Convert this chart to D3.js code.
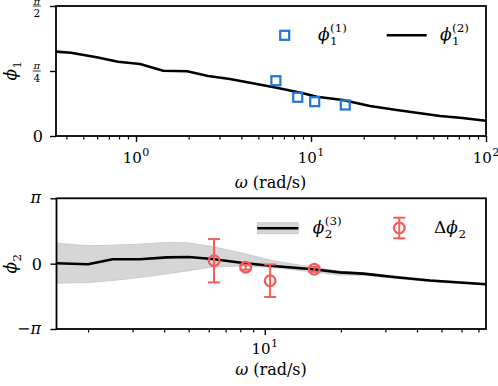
<!DOCTYPE html>
<html>
<head>
<meta charset="utf-8">
<script src="https://cdn.jsdelivr.net/npm/d3@7"></script>
<style>
  body { margin: 0; background: #fff; }
</style>
</head>
<body>
<svg id="chart" width="498" height="386" style="font-family: 'DejaVu Serif', 'Liberation Serif', serif;"></svg>
<script>
// top panel: model curve phi1^(2) and measurements phi1^(1)
const topOmega = [0.35, 0.425, 0.596, 0.789, 1.054, 1.43, 1.96, 2.58, 3.44, 4.48, 6.37, 9.0, 10.8, 15.2, 21.7, 30.9, 54.6, 71, 100];
const topPhi = [1.019, 1.006, 0.951, 0.898, 0.870, 0.789, 0.782, 0.725, 0.689, 0.644, 0.584, 0.516, 0.475, 0.435, 0.362, 0.314, 0.242, 0.221, 0.185];
const measOmega = [6.3, 8.4, 10.5, 15.7];
const measPhi1 = [0.668, 0.468, 0.415, 0.375];

// bottom panel: phi2^(3) with band, and delta phi2 with error bars
const botOmega = [1.5, 2.0, 2.5, 3.2, 4.1, 5.0, 6.2, 8.2, 10.8, 15.5, 19.8, 24.5, 33, 45, 75];
const botPhi = [0.02, -0.03, 0.21, 0.21, 0.30, 0.32, 0.22, 0.03, -0.11, -0.27, -0.42, -0.48, -0.65, -0.81, -0.99];
const botUpper = [0.98, 0.86, 0.89, 0.94, 1.02, 1.00, 0.82, 0.50, 0.14, -0.17, -0.36, -0.43, -0.60, -0.77, -0.95];
const botLower = [-0.94, -0.91, -0.81, -0.67, -0.49, -0.34, -0.16, -0.11, -0.19, -0.40, -0.55, -0.56, -0.71, -0.86, -1.03];
const deltaPhi2 = [0.14, -0.17, -0.82, -0.27];
const deltaErr = [1.04, 0.12, 0.78, 0.12];

const topMinorTicks = [0.4, 0.5, 0.6, 0.7, 0.8, 0.9, 2, 3, 4, 5, 6, 7, 8, 9, 20, 30, 40, 50, 60, 70, 80, 90];
const topMajorTicks = [1, 10, 100];
const botMinorTicks = [2, 3, 4, 5, 6, 7, 8, 9, 20, 30, 40, 50, 60, 70];
const botMajorTicks = [10];

const BLUE = '#1f74d6';
const RED = '#f45b5b';
const PI = Math.PI;
const SERIF = "'DejaVu Serif', 'Liberation Serif', serif";

const svg = d3.select('#chart');

const xTop = d3.scaleLog().domain([0.349, 100]).range([56, 486]);
const yTop = d3.scaleLinear().domain([0, PI / 2]).range([136, 6]);
const xBot = d3.scaleLog().domain([1.5, 75]).range([56.5, 486]);
const yBot = d3.scaleLinear().domain([-PI, PI]).range([329, 198.3]);

function txt(parent, x, y, size) {
  return parent.append('text').attr('x', x).attr('y', y)
    .style('font-family', SERIF).style('font-size', size + 'px').attr('fill', '#000');
}

// italic symbol with stacked sub/sup, returns group
function mathLabel(parent, x, y, o) {
  const size = o.size || 15;
  const g = parent.append('g');
  const base = txt(g, x, y, size);
  if (o.pre) base.append('tspan').text(o.pre);
  base.append('tspan').style('font-style', 'italic').text(o.base);
  const w = base.node().getComputedTextLength();
  let w2 = 0;
  if (o.sub) {
    const t = txt(g, x + w + 0.5, y + size * 0.3, size * 0.7).text(o.sub);
    w2 = Math.max(w2, t.node().getComputedTextLength());
  }
  if (o.sup) {
    const t = txt(g, x + w + 0.5, y - size * 0.48, size * 0.7).text(o.sup);
    w2 = Math.max(w2, t.node().getComputedTextLength());
  }
  if (o.anchor === 'middle') g.attr('transform', `translate(${-(w + w2) / 2},0)`);
  return g;
}

function powerLabel(parent, x, y, exp) {
  const g = parent.append('g');
  const t = txt(g, x, y, 15).text('10');
  const w = t.node().getComputedTextLength();
  const s = txt(g, x + w + 0.5, y - 7, 11).text(exp);
  const total = w + 0.5 + s.node().getComputedTextLength();
  g.attr('transform', `translate(${-total / 2},0)`);
}

function xAxis(xScale, y, minor, major) {
  svg.append('g')
    .attr('transform', `translate(0,${y})`)
    .call(d3.axisBottom(xScale).tickValues(minor).tickSize(3.5).tickFormat(''))
    .call((g) => g.select('.domain').remove())
    .call((g) => g.selectAll('line').attr('stroke-width', 1.2));
  svg.append('g')
    .attr('transform', `translate(0,${y})`)
    .call(d3.axisBottom(xScale).tickValues(major).tickSize(6).tickFormat(''))
    .call((g) => g.select('.domain').remove())
    .call((g) => g.selectAll('line').attr('stroke-width', 1.4));
}

function yAxis(yScale, x, values) {
  svg.append('g')
    .attr('transform', `translate(${x},0)`)
    .call(d3.axisLeft(yScale).tickValues(values).tickSize(6).tickFormat(''))
    .call((g) => g.select('.domain').remove())
    .call((g) => g.selectAll('line').attr('stroke-width', 1.4));
}

function frame(xScale, yScale) {
  const [x0, x1] = xScale.range();
  const [y1, y0] = yScale.range();
  svg.append('rect')
    .attr('x', x0).attr('y', y0).attr('width', x1 - x0).attr('height', y1 - y0)
    .attr('fill', 'none').attr('stroke', '#000').attr('stroke-width', 1.8);
}

function fraction(x, yBar, num, den) {
  txt(svg, x, Math.max(yBar - 2, 5), 10).attr('text-anchor', 'middle')
    .style('font-style', 'italic').text(num);
  svg.append('line').attr('x1', x - 4).attr('x2', x + 4).attr('y1', yBar).attr('y2', yBar)
    .attr('stroke', '#000').attr('stroke-width', 0.8);
  txt(svg, x, yBar + 10.5, 10.5).attr('text-anchor', 'middle').text(den);
}

function omegaTitle(x, y) {
  txt(svg, x, y, 16).attr('text-anchor', 'middle')
    .call((t) => {
      t.append('tspan').style('font-style', 'italic').text('ω');
      t.append('tspan').text(' (rad/s)');
    });
}

// ---------- top panel ----------
svg.append('clipPath').attr('id', 'clip-top')
  .append('rect').attr('x', 56).attr('y', 6).attr('width', 430).attr('height', 130);

svg.append('path')
  .datum(topOmega.map((w, i) => [w, topPhi[i]]))
  .attr('clip-path', 'url(#clip-top)')
  .attr('fill', 'none').attr('stroke', '#000').attr('stroke-width', 2.6)
  .attr('stroke-linejoin', 'round')
  .attr('d', d3.line().x((d) => xTop(d[0])).y((d) => yTop(d[1])));

svg.append('g').selectAll('rect')
  .data(measOmega.map((w, i) => [w, measPhi1[i]]))
  .join('rect')
  .attr('x', (d) => xTop(d[0]) - 4.5).attr('y', (d) => yTop(d[1]) - 4.5)
  .attr('width', 9).attr('height', 9)
  .attr('fill', 'none').attr('stroke', BLUE).attr('stroke-width', 2.2);

xAxis(xTop, 136, topMinorTicks, topMajorTicks);
yAxis(yTop, 56, [0, PI / 4, PI / 2]);
frame(xTop, yTop);

topMajorTicks.forEach((v) => powerLabel(svg, xTop(v), 163, String(Math.round(Math.log10(v)))));

txt(svg, 43, yTop(0) + 6, 16).attr('text-anchor', 'end').text('0');
fraction(36.8, yTop(PI / 4), 'π', '4');
fraction(36.8, yTop(PI / 2), 'π', '2');

omegaTitle(270.5, 188);

// rotated y label
const ylabTop = svg.append('g').attr('transform', 'translate(16,71) rotate(-90)');
mathLabel(ylabTop, 0, 0, { base: 'ϕ', sub: '1', anchor: 'middle', size: 17 });

// top legend
svg.append('rect').attr('x', 280.2).attr('y', 30.8).attr('width', 9).attr('height', 9)
  .attr('fill', 'none').attr('stroke', BLUE).attr('stroke-width', 2.2);
mathLabel(svg, 318, 40, { base: 'ϕ', sub: '1', sup: '(1)', size: 17 });
svg.append('line').attr('x1', 386.7).attr('x2', 426.7).attr('y1', 35.3).attr('y2', 35.3)
  .attr('stroke', '#000').attr('stroke-width', 2.6);
mathLabel(svg, 440, 40, { base: 'ϕ', sub: '1', sup: '(2)', size: 17 });

// ---------- bottom panel ----------
svg.append('clipPath').attr('id', 'clip-bot')
  .append('rect').attr('x', 56.5).attr('y', 198.3).attr('width', 429.5).attr('height', 130.7);

const bandData = botOmega.map((w, i) => ({ w, lo: botLower[i], hi: botUpper[i], mid: botPhi[i] }));

svg.append('path')
  .datum(bandData)
  .attr('clip-path', 'url(#clip-bot)')
  .attr('fill', '#d6d6d6').attr('stroke', '#c4c4c4').attr('stroke-width', 0.8)
  .attr('d', d3.area().x((d) => xBot(d.w)).y0((d) => yBot(d.lo)).y1((d) => yBot(d.hi)));

svg.append('path')
  .datum(bandData)
  .attr('clip-path', 'url(#clip-bot)')
  .attr('fill', 'none').attr('stroke', '#000').attr('stroke-width', 2.6)
  .attr('stroke-linejoin', 'round')
  .attr('d', d3.line().x((d) => xBot(d.w)).y((d) => yBot(d.mid)));

const errData = measOmega.map((w, i) => ({ w, v: deltaPhi2[i], e: deltaErr[i] }));
const errG = svg.append('g').attr('stroke', RED).attr('stroke-width', 2).attr('fill', 'none');
errData.forEach((d) => {
  const x = xBot(d.w);
  const yHi = yBot(d.v + d.e);
  const yLo = yBot(d.v - d.e);
  errG.append('line').attr('x1', x).attr('x2', x).attr('y1', yHi).attr('y2', yLo);
  errG.append('line').attr('x1', x - 6).attr('x2', x + 6).attr('y1', yHi).attr('y2', yHi);
  errG.append('line').attr('x1', x - 6).attr('x2', x + 6).attr('y1', yLo).attr('y2', yLo);
  errG.append('circle').attr('cx', x).attr('cy', yBot(d.v)).attr('r', 5.3).attr('stroke-width', 2.3);
});

xAxis(xBot, 329, botMinorTicks, botMajorTicks);
yAxis(yBot, 56.5, [-PI, 0, PI]);
frame(xBot, yBot);

botMajorTicks.forEach((v) => powerLabel(svg, xBot(v), 354, '1'));

txt(svg, 41, yBot(PI) + 4.5, 16).attr('text-anchor', 'end').style('font-style', 'italic').text('π');
txt(svg, 42, yBot(0) + 6, 16).attr('text-anchor', 'end').text('0');
txt(svg, 41, yBot(-PI) + 4.5, 16).attr('text-anchor', 'end')
  .call((t) => {
    t.append('tspan').text('−');
    t.append('tspan').style('font-style', 'italic').text('π');
  });

omegaTitle(271, 375);

const ylabBot = svg.append('g').attr('transform', 'translate(16,264) rotate(-90)');
mathLabel(ylabBot, 0, 0, { base: 'ϕ', sub: '2', anchor: 'middle', size: 17 });

// bottom legend
svg.append('rect').attr('x', 257.3).attr('y', 222.8).attr('width', 41).attr('height', 11)
  .attr('fill', '#d6d6d6').attr('stroke', '#c4c4c4').attr('stroke-width', 0.8);
svg.append('line').attr('x1', 257.3).attr('x2', 298.3).attr('y1', 228.3).attr('y2', 228.3)
  .attr('stroke', '#000').attr('stroke-width', 2.6);
mathLabel(svg, 312.7, 233, { base: 'ϕ', sub: '2', sup: '(3)', size: 17 });

const legErr = svg.append('g').attr('stroke', RED).attr('stroke-width', 2).attr('fill', 'none');
legErr.append('line').attr('x1', 399.3).attr('x2', 399.3).attr('y1', 217.7).attr('y2', 238.3);
legErr.append('line').attr('x1', 393.3).attr('x2', 405.3).attr('y1', 217.7).attr('y2', 217.7);
legErr.append('line').attr('x1', 393.3).attr('x2', 405.3).attr('y1', 238.3).attr('y2', 238.3);
legErr.append('circle').attr('cx', 399.3).attr('cy', 228).attr('r', 5.3).attr('stroke-width', 2.3);
mathLabel(svg, 434, 233, { pre: 'Δ', base: 'ϕ', sub: '2', size: 17 });
</script>
</body>
</html>
